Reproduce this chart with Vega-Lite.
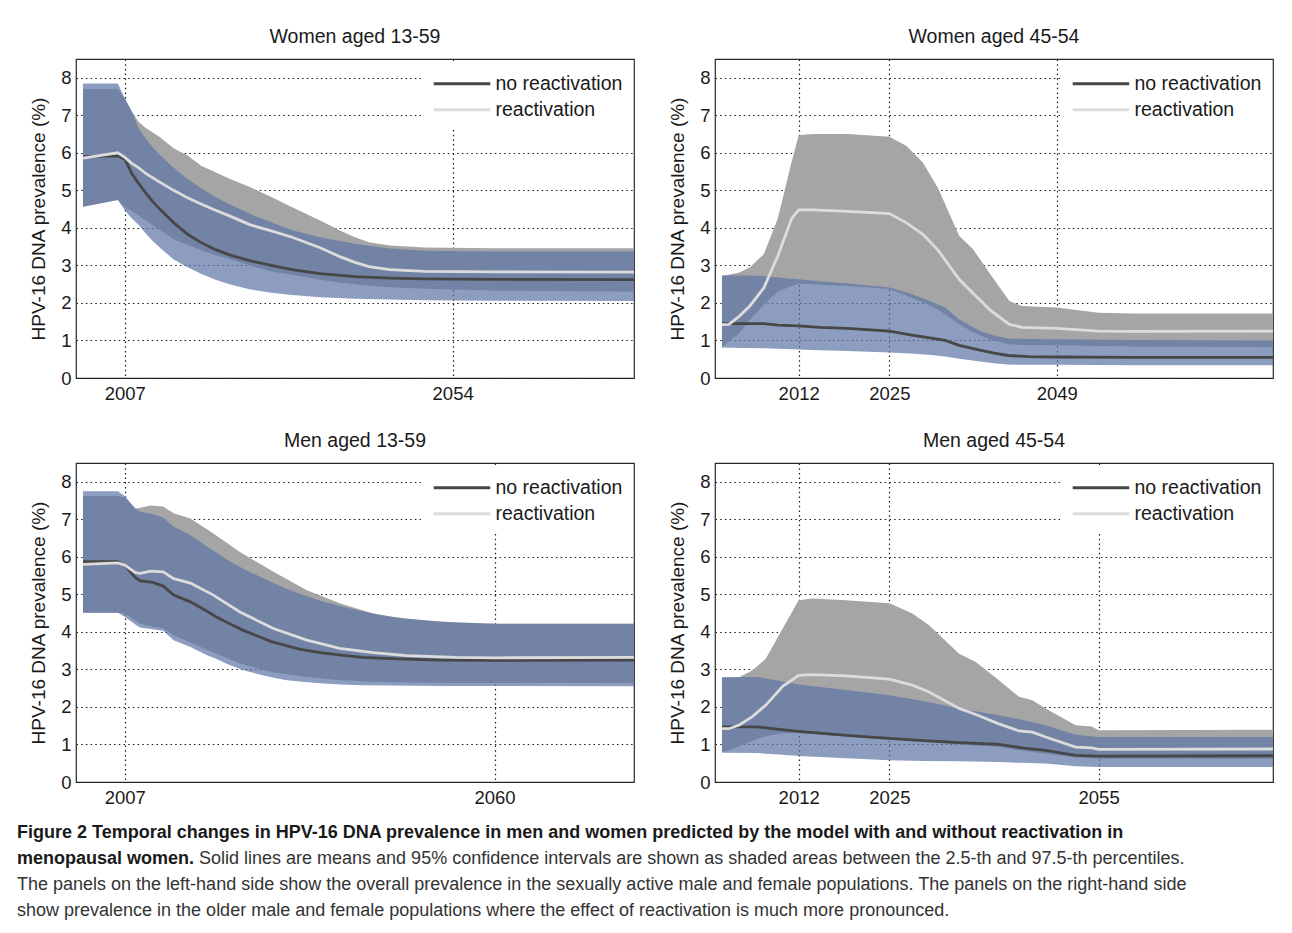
{
  "$schema": "https://vega.github.io/schema/vega-lite/v6.json",
  "background": "white",
  "padding": {"left": 17, "top": 25, "right": 0, "bottom": 0},
  "config": {
    "font": "Liberation Sans",
    "view": {"stroke": "#2a2a2a", "strokeWidth": 1.2},
    "axis": {"domain": false, "ticks": false, "grid": true, "gridColor": "#1a1a1a", "gridDash": [1.5, 3.2], "gridWidth": 1.2, "labelFontSize": 18.5, "labelColor": "#1a1a1a", "labelPadding": 5, "labelFlush": false, "labelOverlap": false, "titleFontSize": 19, "titleFontWeight": "normal", "titleColor": "#1a1a1a", "titlePadding": 12, "zindex": 1},
    "axisX": {"labelPadding": 6},
    "title": {"fontSize": 19.5, "fontWeight": "normal", "color": "#1a1a1a", "offset": 12, "frame": "group"},
    "legend": {"fillColor": "white", "padding": 10, "labelFontSize": 19.5, "labelColor": "#1a1a1a", "symbolType": "M-1,0H7", "symbolSize": 200, "symbolStrokeWidth": 3, "labelOffset": 45, "rowPadding": 5}
  },
  "data": {"values": [
    {"panel": "Women aged 13-59", "series": "no reactivation", "year": 2001, "mean": 5.90, "lo": 4.56, "hi": 7.85},
    {"panel": "Women aged 13-59", "series": "no reactivation", "year": 2006, "mean": 5.92, "lo": 4.74, "hi": 7.85},
    {"panel": "Women aged 13-59", "series": "no reactivation", "year": 2007, "mean": 5.83, "lo": 4.47, "hi": 7.45},
    {"panel": "Women aged 13-59", "series": "no reactivation", "year": 2008, "mean": 5.45, "lo": 4.25, "hi": 7.10},
    {"panel": "Women aged 13-59", "series": "no reactivation", "year": 2009, "mean": 5.18, "lo": 4.08, "hi": 6.65},
    {"panel": "Women aged 13-59", "series": "no reactivation", "year": 2010, "mean": 4.93, "lo": 3.85, "hi": 6.38},
    {"panel": "Women aged 13-59", "series": "no reactivation", "year": 2011, "mean": 4.70, "lo": 3.65, "hi": 6.15},
    {"panel": "Women aged 13-59", "series": "no reactivation", "year": 2012, "mean": 4.50, "lo": 3.48, "hi": 5.95},
    {"panel": "Women aged 13-59", "series": "no reactivation", "year": 2014, "mean": 4.14, "lo": 3.16, "hi": 5.60},
    {"panel": "Women aged 13-59", "series": "no reactivation", "year": 2016, "mean": 3.83, "lo": 2.95, "hi": 5.30},
    {"panel": "Women aged 13-59", "series": "no reactivation", "year": 2018, "mean": 3.60, "lo": 2.77, "hi": 5.05},
    {"panel": "Women aged 13-59", "series": "no reactivation", "year": 2020, "mean": 3.42, "lo": 2.62, "hi": 4.82},
    {"panel": "Women aged 13-59", "series": "no reactivation", "year": 2022, "mean": 3.28, "lo": 2.50, "hi": 4.63},
    {"panel": "Women aged 13-59", "series": "no reactivation", "year": 2025, "mean": 3.12, "lo": 2.36, "hi": 4.37},
    {"panel": "Women aged 13-59", "series": "no reactivation", "year": 2028, "mean": 3.00, "lo": 2.27, "hi": 4.15},
    {"panel": "Women aged 13-59", "series": "no reactivation", "year": 2031, "mean": 2.89, "lo": 2.21, "hi": 3.94},
    {"panel": "Women aged 13-59", "series": "no reactivation", "year": 2035, "mean": 2.78, "lo": 2.15, "hi": 3.75},
    {"panel": "Women aged 13-59", "series": "no reactivation", "year": 2040, "mean": 2.70, "lo": 2.11, "hi": 3.58},
    {"panel": "Women aged 13-59", "series": "no reactivation", "year": 2045, "mean": 2.66, "lo": 2.09, "hi": 3.45},
    {"panel": "Women aged 13-59", "series": "no reactivation", "year": 2050, "mean": 2.64, "lo": 2.07, "hi": 3.39},
    {"panel": "Women aged 13-59", "series": "no reactivation", "year": 2060, "mean": 2.63, "lo": 2.06, "hi": 3.37},
    {"panel": "Women aged 13-59", "series": "no reactivation", "year": 2080, "mean": 2.62, "lo": 2.05, "hi": 3.37},
    {"panel": "Women aged 13-59", "series": "reactivation", "year": 2001, "mean": 5.86, "lo": 4.56, "hi": 7.70},
    {"panel": "Women aged 13-59", "series": "reactivation", "year": 2006, "mean": 6.00, "lo": 4.74, "hi": 7.70},
    {"panel": "Women aged 13-59", "series": "reactivation", "year": 2007, "mean": 5.88, "lo": 4.55, "hi": 7.45},
    {"panel": "Women aged 13-59", "series": "reactivation", "year": 2008, "mean": 5.72, "lo": 4.45, "hi": 7.10},
    {"panel": "Women aged 13-59", "series": "reactivation", "year": 2009, "mean": 5.60, "lo": 4.33, "hi": 6.82},
    {"panel": "Women aged 13-59", "series": "reactivation", "year": 2010, "mean": 5.45, "lo": 4.20, "hi": 6.66},
    {"panel": "Women aged 13-59", "series": "reactivation", "year": 2012, "mean": 5.22, "lo": 3.95, "hi": 6.42},
    {"panel": "Women aged 13-59", "series": "reactivation", "year": 2014, "mean": 5.00, "lo": 3.70, "hi": 6.12},
    {"panel": "Women aged 13-59", "series": "reactivation", "year": 2016, "mean": 4.80, "lo": 3.55, "hi": 5.93},
    {"panel": "Women aged 13-59", "series": "reactivation", "year": 2018, "mean": 4.63, "lo": 3.40, "hi": 5.65},
    {"panel": "Women aged 13-59", "series": "reactivation", "year": 2020, "mean": 4.47, "lo": 3.27, "hi": 5.48},
    {"panel": "Women aged 13-59", "series": "reactivation", "year": 2022, "mean": 4.32, "lo": 3.17, "hi": 5.31},
    {"panel": "Women aged 13-59", "series": "reactivation", "year": 2025, "mean": 4.08, "lo": 3.00, "hi": 5.08},
    {"panel": "Women aged 13-59", "series": "reactivation", "year": 2028, "mean": 3.92, "lo": 2.84, "hi": 4.82},
    {"panel": "Women aged 13-59", "series": "reactivation", "year": 2031, "mean": 3.75, "lo": 2.75, "hi": 4.55},
    {"panel": "Women aged 13-59", "series": "reactivation", "year": 2035, "mean": 3.47, "lo": 2.62, "hi": 4.20},
    {"panel": "Women aged 13-59", "series": "reactivation", "year": 2038, "mean": 3.22, "lo": 2.54, "hi": 3.92},
    {"panel": "Women aged 13-59", "series": "reactivation", "year": 2040, "mean": 3.08, "lo": 2.50, "hi": 3.75},
    {"panel": "Women aged 13-59", "series": "reactivation", "year": 2042, "mean": 2.97, "lo": 2.46, "hi": 3.62},
    {"panel": "Women aged 13-59", "series": "reactivation", "year": 2045, "mean": 2.89, "lo": 2.42, "hi": 3.53},
    {"panel": "Women aged 13-59", "series": "reactivation", "year": 2050, "mean": 2.84, "lo": 2.38, "hi": 3.48},
    {"panel": "Women aged 13-59", "series": "reactivation", "year": 2060, "mean": 2.83, "lo": 2.33, "hi": 3.46},
    {"panel": "Women aged 13-59", "series": "reactivation", "year": 2080, "mean": 2.82, "lo": 2.30, "hi": 3.46},

    {"panel": "Women aged 45-54", "series": "no reactivation", "year": 2001, "mean": 1.45, "lo": 0.81, "hi": 2.74},
    {"panel": "Women aged 45-54", "series": "no reactivation", "year": 2004, "mean": 1.45, "lo": 0.80, "hi": 2.73},
    {"panel": "Women aged 45-54", "series": "no reactivation", "year": 2007, "mean": 1.45, "lo": 0.79, "hi": 2.72},
    {"panel": "Women aged 45-54", "series": "no reactivation", "year": 2009, "mean": 1.41, "lo": 0.78, "hi": 2.68},
    {"panel": "Women aged 45-54", "series": "no reactivation", "year": 2012, "mean": 1.39, "lo": 0.76, "hi": 2.63},
    {"panel": "Women aged 45-54", "series": "no reactivation", "year": 2015, "mean": 1.35, "lo": 0.74, "hi": 2.58},
    {"panel": "Women aged 45-54", "series": "no reactivation", "year": 2019, "mean": 1.32, "lo": 0.72, "hi": 2.52},
    {"panel": "Women aged 45-54", "series": "no reactivation", "year": 2025, "mean": 1.25, "lo": 0.68, "hi": 2.41},
    {"panel": "Women aged 45-54", "series": "no reactivation", "year": 2028, "mean": 1.15, "lo": 0.65, "hi": 2.25},
    {"panel": "Women aged 45-54", "series": "no reactivation", "year": 2031, "mean": 1.06, "lo": 0.61, "hi": 2.03},
    {"panel": "Women aged 45-54", "series": "no reactivation", "year": 2033, "mean": 1.00, "lo": 0.57, "hi": 1.88},
    {"panel": "Women aged 45-54", "series": "no reactivation", "year": 2035, "mean": 0.87, "lo": 0.51, "hi": 1.56},
    {"panel": "Women aged 45-54", "series": "no reactivation", "year": 2038, "mean": 0.74, "lo": 0.44, "hi": 1.25},
    {"panel": "Women aged 45-54", "series": "no reactivation", "year": 2040, "mean": 0.66, "lo": 0.39, "hi": 1.13},
    {"panel": "Women aged 45-54", "series": "no reactivation", "year": 2042, "mean": 0.60, "lo": 0.36, "hi": 1.05},
    {"panel": "Women aged 45-54", "series": "no reactivation", "year": 2045, "mean": 0.57, "lo": 0.35, "hi": 1.04},
    {"panel": "Women aged 45-54", "series": "no reactivation", "year": 2049, "mean": 0.56, "lo": 0.35, "hi": 1.03},
    {"panel": "Women aged 45-54", "series": "no reactivation", "year": 2060, "mean": 0.55, "lo": 0.34, "hi": 1.01},
    {"panel": "Women aged 45-54", "series": "no reactivation", "year": 2080, "mean": 0.55, "lo": 0.34, "hi": 1.00},
    {"panel": "Women aged 45-54", "series": "reactivation", "year": 2001, "mean": 1.42, "lo": 0.81, "hi": 2.72},
    {"panel": "Women aged 45-54", "series": "reactivation", "year": 2002, "mean": 1.43, "lo": 0.97, "hi": 2.75},
    {"panel": "Women aged 45-54", "series": "reactivation", "year": 2003.5, "mean": 1.65, "lo": 1.20, "hi": 2.81},
    {"panel": "Women aged 45-54", "series": "reactivation", "year": 2005, "mean": 1.92, "lo": 1.55, "hi": 2.95},
    {"panel": "Women aged 45-54", "series": "reactivation", "year": 2007, "mean": 2.40, "lo": 1.95, "hi": 3.30},
    {"panel": "Women aged 45-54", "series": "reactivation", "year": 2009, "mean": 3.25, "lo": 2.30, "hi": 4.25},
    {"panel": "Women aged 45-54", "series": "reactivation", "year": 2011, "mean": 4.25, "lo": 2.45, "hi": 5.77},
    {"panel": "Women aged 45-54", "series": "reactivation", "year": 2012, "mean": 4.48, "lo": 2.52, "hi": 6.47},
    {"panel": "Women aged 45-54", "series": "reactivation", "year": 2014, "mean": 4.48, "lo": 2.50, "hi": 6.50},
    {"panel": "Women aged 45-54", "series": "reactivation", "year": 2019, "mean": 4.44, "lo": 2.45, "hi": 6.50},
    {"panel": "Women aged 45-54", "series": "reactivation", "year": 2025, "mean": 4.38, "lo": 2.37, "hi": 6.43},
    {"panel": "Women aged 45-54", "series": "reactivation", "year": 2027.4, "mean": 4.14, "lo": 2.20, "hi": 6.19},
    {"panel": "Women aged 45-54", "series": "reactivation", "year": 2029.8, "mean": 3.83, "lo": 2.02, "hi": 5.74},
    {"panel": "Women aged 45-54", "series": "reactivation", "year": 2032, "mean": 3.40, "lo": 1.82, "hi": 5.05},
    {"panel": "Women aged 45-54", "series": "reactivation", "year": 2035, "mean": 2.63, "lo": 1.43, "hi": 3.79},
    {"panel": "Women aged 45-54", "series": "reactivation", "year": 2037, "mean": 2.26, "lo": 1.22, "hi": 3.43},
    {"panel": "Women aged 45-54", "series": "reactivation", "year": 2039.5, "mean": 1.80, "lo": 1.02, "hi": 2.76},
    {"panel": "Women aged 45-54", "series": "reactivation", "year": 2042.2, "mean": 1.43, "lo": 0.90, "hi": 2.05},
    {"panel": "Women aged 45-54", "series": "reactivation", "year": 2044, "mean": 1.35, "lo": 0.88, "hi": 1.92},
    {"panel": "Women aged 45-54", "series": "reactivation", "year": 2049, "mean": 1.32, "lo": 0.87, "hi": 1.88},
    {"panel": "Women aged 45-54", "series": "reactivation", "year": 2055, "mean": 1.25, "lo": 0.85, "hi": 1.74},
    {"panel": "Women aged 45-54", "series": "reactivation", "year": 2060, "mean": 1.24, "lo": 0.84, "hi": 1.72},
    {"panel": "Women aged 45-54", "series": "reactivation", "year": 2080, "mean": 1.25, "lo": 0.82, "hi": 1.72},

    {"panel": "Men aged 13-59", "series": "no reactivation", "year": 2001, "mean": 5.87, "lo": 4.51, "hi": 7.75},
    {"panel": "Men aged 13-59", "series": "no reactivation", "year": 2006, "mean": 5.87, "lo": 4.51, "hi": 7.75},
    {"panel": "Men aged 13-59", "series": "no reactivation", "year": 2007, "mean": 5.78, "lo": 4.40, "hi": 7.62},
    {"panel": "Men aged 13-59", "series": "no reactivation", "year": 2008.5, "mean": 5.45, "lo": 4.20, "hi": 7.29},
    {"panel": "Men aged 13-59", "series": "no reactivation", "year": 2009.2, "mean": 5.36, "lo": 4.12, "hi": 7.20},
    {"panel": "Men aged 13-59", "series": "no reactivation", "year": 2011, "mean": 5.32, "lo": 4.07, "hi": 7.14},
    {"panel": "Men aged 13-59", "series": "no reactivation", "year": 2012.5, "mean": 5.22, "lo": 4.03, "hi": 7.05},
    {"panel": "Men aged 13-59", "series": "no reactivation", "year": 2014, "mean": 4.98, "lo": 3.78, "hi": 6.80},
    {"panel": "Men aged 13-59", "series": "no reactivation", "year": 2016.4, "mean": 4.80, "lo": 3.60, "hi": 6.58},
    {"panel": "Men aged 13-59", "series": "no reactivation", "year": 2018.8, "mean": 4.55, "lo": 3.38, "hi": 6.27},
    {"panel": "Men aged 13-59", "series": "no reactivation", "year": 2020, "mean": 4.41, "lo": 3.29, "hi": 6.13},
    {"panel": "Men aged 13-59", "series": "no reactivation", "year": 2022, "mean": 4.22, "lo": 3.12, "hi": 5.88},
    {"panel": "Men aged 13-59", "series": "no reactivation", "year": 2024, "mean": 4.04, "lo": 2.98, "hi": 5.68},
    {"panel": "Men aged 13-59", "series": "no reactivation", "year": 2026, "mean": 3.89, "lo": 2.88, "hi": 5.50},
    {"panel": "Men aged 13-59", "series": "no reactivation", "year": 2028, "mean": 3.74, "lo": 2.79, "hi": 5.33},
    {"panel": "Men aged 13-59", "series": "no reactivation", "year": 2030, "mean": 3.64, "lo": 2.72, "hi": 5.16},
    {"panel": "Men aged 13-59", "series": "no reactivation", "year": 2032, "mean": 3.54, "lo": 2.68, "hi": 5.02},
    {"panel": "Men aged 13-59", "series": "no reactivation", "year": 2035, "mean": 3.45, "lo": 2.63, "hi": 4.83},
    {"panel": "Men aged 13-59", "series": "no reactivation", "year": 2038, "mean": 3.38, "lo": 2.60, "hi": 4.68},
    {"panel": "Men aged 13-59", "series": "no reactivation", "year": 2041, "mean": 3.32, "lo": 2.58, "hi": 4.55},
    {"panel": "Men aged 13-59", "series": "no reactivation", "year": 2045, "mean": 3.29, "lo": 2.57, "hi": 4.40},
    {"panel": "Men aged 13-59", "series": "no reactivation", "year": 2052, "mean": 3.25, "lo": 2.56, "hi": 4.27},
    {"panel": "Men aged 13-59", "series": "no reactivation", "year": 2060, "mean": 3.24, "lo": 2.56, "hi": 4.22},
    {"panel": "Men aged 13-59", "series": "no reactivation", "year": 2080, "mean": 3.25, "lo": 2.55, "hi": 4.22},
    {"panel": "Men aged 13-59", "series": "reactivation", "year": 2001, "mean": 5.80, "lo": 4.51, "hi": 7.62},
    {"panel": "Men aged 13-59", "series": "reactivation", "year": 2006, "mean": 5.84, "lo": 4.51, "hi": 7.62},
    {"panel": "Men aged 13-59", "series": "reactivation", "year": 2007, "mean": 5.78, "lo": 4.49, "hi": 7.58},
    {"panel": "Men aged 13-59", "series": "reactivation", "year": 2008.5, "mean": 5.58, "lo": 4.30, "hi": 7.29},
    {"panel": "Men aged 13-59", "series": "reactivation", "year": 2009.2, "mean": 5.56, "lo": 4.22, "hi": 7.31},
    {"panel": "Men aged 13-59", "series": "reactivation", "year": 2010.7, "mean": 5.62, "lo": 4.15, "hi": 7.37},
    {"panel": "Men aged 13-59", "series": "reactivation", "year": 2012.5, "mean": 5.60, "lo": 4.10, "hi": 7.34},
    {"panel": "Men aged 13-59", "series": "reactivation", "year": 2014, "mean": 5.42, "lo": 3.91, "hi": 7.16},
    {"panel": "Men aged 13-59", "series": "reactivation", "year": 2016.4, "mean": 5.30, "lo": 3.72, "hi": 7.02},
    {"panel": "Men aged 13-59", "series": "reactivation", "year": 2019.7, "mean": 4.98, "lo": 3.45, "hi": 6.62},
    {"panel": "Men aged 13-59", "series": "reactivation", "year": 2023.5, "mean": 4.53, "lo": 3.16, "hi": 6.13},
    {"panel": "Men aged 13-59", "series": "reactivation", "year": 2028.3, "mean": 4.09, "lo": 2.92, "hi": 5.60},
    {"panel": "Men aged 13-59", "series": "reactivation", "year": 2033.1, "mean": 3.78, "lo": 2.80, "hi": 5.11},
    {"panel": "Men aged 13-59", "series": "reactivation", "year": 2037.8, "mean": 3.56, "lo": 2.71, "hi": 4.76},
    {"panel": "Men aged 13-59", "series": "reactivation", "year": 2042.6, "mean": 3.45, "lo": 2.67, "hi": 4.49},
    {"panel": "Men aged 13-59", "series": "reactivation", "year": 2047.4, "mean": 3.37, "lo": 2.65, "hi": 4.34},
    {"panel": "Men aged 13-59", "series": "reactivation", "year": 2054.5, "mean": 3.32, "lo": 2.64, "hi": 4.25},
    {"panel": "Men aged 13-59", "series": "reactivation", "year": 2060, "mean": 3.31, "lo": 2.64, "hi": 4.22},
    {"panel": "Men aged 13-59", "series": "reactivation", "year": 2080, "mean": 3.32, "lo": 2.64, "hi": 4.22},

    {"panel": "Men aged 45-54", "series": "no reactivation", "year": 2001, "mean": 1.47, "lo": 0.78, "hi": 2.80},
    {"panel": "Men aged 45-54", "series": "no reactivation", "year": 2006, "mean": 1.47, "lo": 0.77, "hi": 2.80},
    {"panel": "Men aged 45-54", "series": "no reactivation", "year": 2009.2, "mean": 1.40, "lo": 0.73, "hi": 2.70},
    {"panel": "Men aged 45-54", "series": "no reactivation", "year": 2012, "mean": 1.35, "lo": 0.69, "hi": 2.60},
    {"panel": "Men aged 45-54", "series": "no reactivation", "year": 2018.8, "mean": 1.24, "lo": 0.63, "hi": 2.45},
    {"panel": "Men aged 45-54", "series": "no reactivation", "year": 2025, "mean": 1.16, "lo": 0.58, "hi": 2.31},
    {"panel": "Men aged 45-54", "series": "no reactivation", "year": 2030, "mean": 1.10, "lo": 0.56, "hi": 2.15},
    {"panel": "Men aged 45-54", "series": "no reactivation", "year": 2035, "mean": 1.05, "lo": 0.55, "hi": 1.96},
    {"panel": "Men aged 45-54", "series": "no reactivation", "year": 2040.7, "mean": 1.00, "lo": 0.53, "hi": 1.78},
    {"panel": "Men aged 45-54", "series": "no reactivation", "year": 2044, "mean": 0.91, "lo": 0.51, "hi": 1.66},
    {"panel": "Men aged 45-54", "series": "no reactivation", "year": 2047.4, "mean": 0.84, "lo": 0.49, "hi": 1.51},
    {"panel": "Men aged 45-54", "series": "no reactivation", "year": 2051.7, "mean": 0.71, "lo": 0.42, "hi": 1.26},
    {"panel": "Men aged 45-54", "series": "no reactivation", "year": 2055, "mean": 0.69, "lo": 0.40, "hi": 1.20},
    {"panel": "Men aged 45-54", "series": "no reactivation", "year": 2080, "mean": 0.70, "lo": 0.40, "hi": 1.20},
    {"panel": "Men aged 45-54", "series": "reactivation", "year": 2001, "mean": 1.42, "lo": 0.80, "hi": 2.77},
    {"panel": "Men aged 45-54", "series": "reactivation", "year": 2002, "mean": 1.42, "lo": 0.84, "hi": 2.78},
    {"panel": "Men aged 45-54", "series": "reactivation", "year": 2003.5, "mean": 1.52, "lo": 0.95, "hi": 2.80},
    {"panel": "Men aged 45-54", "series": "reactivation", "year": 2005.4, "mean": 1.75, "lo": 1.10, "hi": 2.98},
    {"panel": "Men aged 45-54", "series": "reactivation", "year": 2007.3, "mean": 2.05, "lo": 1.22, "hi": 3.29},
    {"panel": "Men aged 45-54", "series": "reactivation", "year": 2009.7, "mean": 2.55, "lo": 1.30, "hi": 4.09},
    {"panel": "Men aged 45-54", "series": "reactivation", "year": 2012, "mean": 2.84, "lo": 1.30, "hi": 4.84},
    {"panel": "Men aged 45-54", "series": "reactivation", "year": 2014, "mean": 2.86, "lo": 1.28, "hi": 4.89},
    {"panel": "Men aged 45-54", "series": "reactivation", "year": 2018.8, "mean": 2.83, "lo": 1.22, "hi": 4.84},
    {"panel": "Men aged 45-54", "series": "reactivation", "year": 2025, "mean": 2.74, "lo": 1.12, "hi": 4.76},
    {"panel": "Men aged 45-54", "series": "reactivation", "year": 2028.3, "mean": 2.58, "lo": 1.08, "hi": 4.49},
    {"panel": "Men aged 45-54", "series": "reactivation", "year": 2030.7, "mean": 2.40, "lo": 1.05, "hi": 4.18},
    {"panel": "Men aged 45-54", "series": "reactivation", "year": 2035, "mean": 1.96, "lo": 1.00, "hi": 3.42},
    {"panel": "Men aged 45-54", "series": "reactivation", "year": 2037.4, "mean": 1.80, "lo": 0.97, "hi": 3.20},
    {"panel": "Men aged 45-54", "series": "reactivation", "year": 2040.7, "mean": 1.55, "lo": 0.93, "hi": 2.71},
    {"panel": "Men aged 45-54", "series": "reactivation", "year": 2043.6, "mean": 1.36, "lo": 0.85, "hi": 2.27},
    {"panel": "Men aged 45-54", "series": "reactivation", "year": 2045.5, "mean": 1.33, "lo": 0.80, "hi": 2.18},
    {"panel": "Men aged 45-54", "series": "reactivation", "year": 2047.4, "mean": 1.20, "lo": 0.75, "hi": 1.96},
    {"panel": "Men aged 45-54", "series": "reactivation", "year": 2051.7, "mean": 0.93, "lo": 0.65, "hi": 1.51},
    {"panel": "Men aged 45-54", "series": "reactivation", "year": 2054, "mean": 0.91, "lo": 0.63, "hi": 1.48},
    {"panel": "Men aged 45-54", "series": "reactivation", "year": 2055, "mean": 0.87, "lo": 0.62, "hi": 1.38},
    {"panel": "Men aged 45-54", "series": "reactivation", "year": 2080, "mean": 0.88, "lo": 0.62, "hi": 1.39}
  ]},
  "resolve": {"scale": {"color": "independent"}, "legend": {"color": "independent"}},
  "spacing": 12,
  "vconcat": [
    {
      "spacing": 25,
      "resolve": {"scale": {"color": "independent"}, "legend": {"color": "independent"}},
      "vconcat": [
        {
          "spacing": 27,
          "resolve": {"scale": {"color": "independent"}, "legend": {"color": "independent"}},
          "hconcat": [
            {
              "title": "Women aged 13-59",
              "width": 558, "height": 319,
              "transform": [{"filter": "datum.panel === 'Women aged 13-59'"}],
              "encoding": {
                "x": {"field": "year", "type": "quantitative", "scale": {"domain": [2000, 2080], "nice": false, "zero": false}, "axis": {"values": [2007, 2054], "format": "d", "title": null}},
                "y": {"field": "mean", "type": "quantitative", "scale": {"domain": [0, 8.5], "nice": false}, "axis": {"values": [0, 1, 2, 3, 4, 5, 6, 7, 8], "format": "d", "title": "HPV-16 DNA prevalence (%)"}}
              },
              "layer": [
                {"transform": [{"filter": "datum.series === 'reactivation'"}], "mark": {"type": "area", "color": "#a5a5a5", "opacity": 1}, "encoding": {"y": {"field": "lo", "type": "quantitative"}, "y2": {"field": "hi"}}},
                {"transform": [{"filter": "datum.series === 'no reactivation'"}], "mark": {"type": "area", "color": "#5e76a5", "opacity": 0.714}, "encoding": {"y": {"field": "lo", "type": "quantitative"}, "y2": {"field": "hi"}}},
                {"mark": {"type": "line", "strokeWidth": 2.8}, "encoding": {"color": {"field": "series", "type": "nominal", "scale": {"domain": ["no reactivation", "reactivation"], "range": ["#474747", "#dcdcdc"]}, "legend": {"title": null, "orient": "none", "legendX": 345, "legendY": 5, "zindex": 2}}}}
              ]
            },
            {
              "title": "Women aged 45-54",
              "width": 558, "height": 319,
              "transform": [{"filter": "datum.panel === 'Women aged 45-54'"}],
              "encoding": {
                "x": {"field": "year", "type": "quantitative", "scale": {"domain": [2000, 2080], "nice": false, "zero": false}, "axis": {"values": [2012, 2025, 2049], "format": "d", "title": null}},
                "y": {"field": "mean", "type": "quantitative", "scale": {"domain": [0, 8.5], "nice": false}, "axis": {"values": [0, 1, 2, 3, 4, 5, 6, 7, 8], "format": "d", "title": "HPV-16 DNA prevalence (%)"}}
              },
              "layer": [
                {"transform": [{"filter": "datum.series === 'reactivation'"}], "mark": {"type": "area", "color": "#a5a5a5", "opacity": 1}, "encoding": {"y": {"field": "lo", "type": "quantitative"}, "y2": {"field": "hi"}}},
                {"transform": [{"filter": "datum.series === 'no reactivation'"}], "mark": {"type": "area", "color": "#5e76a5", "opacity": 0.714}, "encoding": {"y": {"field": "lo", "type": "quantitative"}, "y2": {"field": "hi"}}},
                {"mark": {"type": "line", "strokeWidth": 2.8}, "encoding": {"color": {"field": "series", "type": "nominal", "scale": {"domain": ["no reactivation", "reactivation"], "range": ["#474747", "#dcdcdc"]}, "legend": {"title": null, "orient": "none", "legendX": 345, "legendY": 5, "zindex": 2}}}}
              ]
            }
          ]
        },
        {
          "spacing": 27,
          "resolve": {"scale": {"color": "independent"}, "legend": {"color": "independent"}},
          "hconcat": [
            {
              "title": "Men aged 13-59",
              "width": 558, "height": 319,
              "transform": [{"filter": "datum.panel === 'Men aged 13-59'"}],
              "encoding": {
                "x": {"field": "year", "type": "quantitative", "scale": {"domain": [2000, 2080], "nice": false, "zero": false}, "axis": {"values": [2007, 2060], "format": "d", "title": null}},
                "y": {"field": "mean", "type": "quantitative", "scale": {"domain": [0, 8.5], "nice": false}, "axis": {"values": [0, 1, 2, 3, 4, 5, 6, 7, 8], "format": "d", "title": "HPV-16 DNA prevalence (%)"}}
              },
              "layer": [
                {"transform": [{"filter": "datum.series === 'reactivation'"}], "mark": {"type": "area", "color": "#a5a5a5", "opacity": 1}, "encoding": {"y": {"field": "lo", "type": "quantitative"}, "y2": {"field": "hi"}}},
                {"transform": [{"filter": "datum.series === 'no reactivation'"}], "mark": {"type": "area", "color": "#5e76a5", "opacity": 0.714}, "encoding": {"y": {"field": "lo", "type": "quantitative"}, "y2": {"field": "hi"}}},
                {"mark": {"type": "line", "strokeWidth": 2.8}, "encoding": {"color": {"field": "series", "type": "nominal", "scale": {"domain": ["no reactivation", "reactivation"], "range": ["#474747", "#dcdcdc"]}, "legend": {"title": null, "orient": "none", "legendX": 345, "legendY": 5, "zindex": 2}}}}
              ]
            },
            {
              "title": "Men aged 45-54",
              "width": 558, "height": 319,
              "transform": [{"filter": "datum.panel === 'Men aged 45-54'"}],
              "encoding": {
                "x": {"field": "year", "type": "quantitative", "scale": {"domain": [2000, 2080], "nice": false, "zero": false}, "axis": {"values": [2012, 2025, 2055], "format": "d", "title": null}},
                "y": {"field": "mean", "type": "quantitative", "scale": {"domain": [0, 8.5], "nice": false}, "axis": {"values": [0, 1, 2, 3, 4, 5, 6, 7, 8], "format": "d", "title": "HPV-16 DNA prevalence (%)"}}
              },
              "layer": [
                {"transform": [{"filter": "datum.series === 'reactivation'"}], "mark": {"type": "area", "color": "#a5a5a5", "opacity": 1}, "encoding": {"y": {"field": "lo", "type": "quantitative"}, "y2": {"field": "hi"}}},
                {"transform": [{"filter": "datum.series === 'no reactivation'"}], "mark": {"type": "area", "color": "#5e76a5", "opacity": 0.714}, "encoding": {"y": {"field": "lo", "type": "quantitative"}, "y2": {"field": "hi"}}},
                {"mark": {"type": "line", "strokeWidth": 2.8}, "encoding": {"color": {"field": "series", "type": "nominal", "scale": {"domain": ["no reactivation", "reactivation"], "range": ["#474747", "#dcdcdc"]}, "legend": {"title": null, "orient": "none", "legendX": 345, "legendY": 5, "zindex": 2}}}}
              ]
            }
          ]
        }
      ]
    },
    {
      "width": 1200, "height": 104,
      "view": {"stroke": null},
      "data": {"values": [
        {"line": 1, "part": "bold", "text": "Figure 2 Temporal changes in HPV-16 DNA prevalence in men and women predicted by the model with and without reactivation in"},
        {"line": 2, "part": "bold", "text": "menopausal women."},
        {"line": 2, "part": "tail", "text": "Solid lines are means and 95% confidence intervals are shown as shaded areas between the 2.5-th and 97.5-th percentiles."},
        {"line": 3, "part": "regular", "text": "The panels on the left-hand side show the overall prevalence in the sexually active male and female populations. The panels on the right-hand side"},
        {"line": 4, "part": "regular", "text": "show prevalence in the older male and female populations where the effect of reactivation is much more pronounced."}
      ]},
      "encoding": {
        "y": {"field": "line", "type": "ordinal", "axis": null},
        "text": {"field": "text", "type": "nominal"}
      },
      "layer": [
        {"transform": [{"filter": "datum.part === 'bold'"}], "mark": {"type": "text", "align": "left", "baseline": "middle", "x": -59, "fontSize": 18, "fontWeight": "bold", "color": "#1a1a1a"}},
        {"transform": [{"filter": "datum.part === 'regular'"}], "mark": {"type": "text", "align": "left", "baseline": "middle", "x": -59, "fontSize": 18, "color": "#333333"}},
        {"transform": [{"filter": "datum.part === 'tail'"}], "mark": {"type": "text", "align": "left", "baseline": "middle", "x": -59, "dx": 182, "fontSize": 18, "color": "#333333"}}
      ]
    }
  ]
}
